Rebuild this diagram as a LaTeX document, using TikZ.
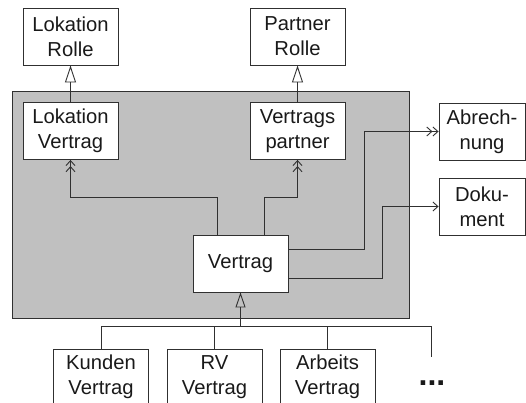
\documentclass[tikz,border=0pt]{standalone}
\usepackage{fontspec}
\setmainfont{Liberation Sans}
\usetikzlibrary{arrows.meta}
\definecolor{fillgray}{HTML}{C0C0C0}
\definecolor{linec}{HTML}{303030}
\begin{document}
\begin{tikzpicture}[x=1pt,y=-1pt,
  box/.style={draw=linec, fill=white, line width=0.9pt, minimum width=95pt, minimum height=57pt,
    inner sep=0pt, align=center, font=\fontsize{20.2}{25}\selectfont, text=black!90},
  conn/.style={draw=linec, line width=0.9pt},
  nav/.style={conn, -{Straight Barb[length=5pt,width=9pt]Straight Barb[length=5pt,width=9pt]}},
  nav1/.style={conn, -{Straight Barb[length=5pt,width=9pt]}},
  inh/.style={conn, -{Triangle[open,length=17pt,width=11pt,line width=0.9pt]}}]
\clip (0,0) rectangle (526,403);
\fill[white] (0,0) rectangle (526,403);
% gray container
\draw[fill=fillgray, draw=linec, line width=1pt] (12,92) rectangle (409,318);
% nodes
\node[box] (LR) at (70.5,36.5) {Lokation\\Rolle};
\node[box] (PR) at (297.5,36.5) {Partner\\Rolle};
\node[box] (LV) at (70.5,131) {Lokation\\Vertrag};
\node[box] (VP) at (297.5,131) {Vertrags\\partner};
\node[box, minimum width=86pt] (AB) at (482,131.5) {Abrech-\\nung};
\node[box, minimum width=86pt] (DO) at (482,206.5) {Doku-\\ment};
\node[box] (V) at (240.5,263.5) {Vertrag};
\node[box, minimum height=56pt] (KV) at (101,377) {Kunden\\Vertrag};
\node[box, minimum height=56pt] (RV) at (214.5,377) {RV\\Vertrag};
\node[box, minimum height=56pt] (AV) at (327.5,377) {Arbeits\\Vertrag};
\node[font=\fontsize{32}{32}\selectfont\bfseries, text=black!90, inner sep=0pt] (dots) at (432,383) {...};
% generalisations
\draw[inh] (LV.north) -- (LR.south);
\draw[inh] (VP.north) -- (PR.south);
% navigations
\coordinate (c1) at (217,197);
\coordinate (c2) at (264,197);
\coordinate (c3) at (364,249);
\coordinate (c4) at (382,278);
\draw[nav] (c1 |- V.north) -- (c1) -| (LV.south);
\draw[nav] (c2 |- V.north) -- (c2) -| (VP.south);
\draw[nav] (V.east |- c3) -- (c3) |- (AB.west);
\draw[nav1] (V.east |- c4) -- (c4) |- (DO.west);
% inheritance tree
\coordinate (j) at (240.5,326);
\coordinate (je) at (431,326);
\coordinate (jd) at (431,357);
\draw[conn, line width=1.8pt, -{Triangle[open,length=15pt,width=10pt,line width=0.9pt]}] (j) -- (V.south);
\draw[conn] (KV.north |- j) -- (je) -- (jd);
\draw[conn] (KV.north) -- (KV.north |- j);
\draw[conn] (RV.north) -- (RV.north |- j);
\draw[conn] (AV.north) -- (AV.north |- j);
\end{tikzpicture}
\end{document}
